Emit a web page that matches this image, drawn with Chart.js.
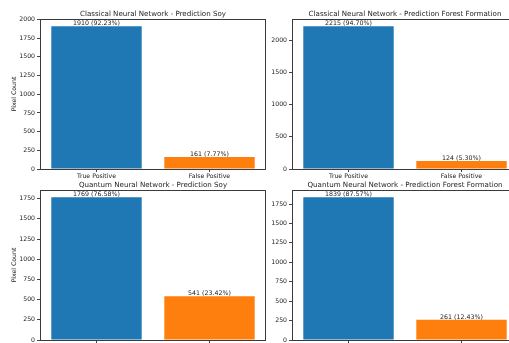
<!DOCTYPE html>
<html><head><meta charset="utf-8">
<script src="https://cdn.jsdelivr.net/npm/chart.js@4"></script>
<style>
html,body{margin:0;padding:0;background:#fff;width:509px;height:343px;overflow:hidden;position:relative;}
canvas{position:absolute;}
</style></head><body>
<canvas id="c0" width="267" height="185" style="left:0;top:0"></canvas>
<canvas id="c1" width="267" height="185" style="left:252px;top:0"></canvas>
<canvas id="c2" width="267" height="185" style="left:0;top:171px"></canvas>
<canvas id="c3" width="267" height="185" style="left:252px;top:171px"></canvas>
<script>
const categories = ["True Positive", "False Positive"];
const titles = [
  "Classical Neural Network - Prediction Soy",
  "Classical Neural Network - Prediction Forest Formation",
  "Quantum Neural Network - Prediction Soy",
  "Quantum Neural Network - Prediction Forest Formation"
];
const classicalSoy = [1910, 161];
const classicalForest = [2215, 124];
const quantumSoy = [1769, 541];
const quantumForest = [1839, 261];
const tickSteps = [250, 500, 250, 250];
const yTitles = ["Pixel Count", "", "Pixel Count", ""];
const barColors = ["#1f77b4", "#ff7f0e"];

const FONT = "'DejaVu Sans', sans-serif";
const series = [classicalSoy, classicalForest, quantumSoy, quantumForest];

const framePlugin = {
  id: 'frame',
  afterDatasetsDraw(chart) {
    const a = chart.chartArea, ctx = chart.ctx;
    ctx.save();
    ctx.strokeStyle = '#3a3a3a';
    ctx.lineWidth = 1;
    ctx.strokeRect(Math.round(a.left) + 0.5, Math.round(a.top) + 0.5,
                   Math.round(a.right - a.left) - 1, Math.round(a.bottom - a.top));
    ctx.restore();
  }
};
const axTitlePlugin = {
  id: 'axTitle',
  afterDraw(chart, args, opts) {
    const a = chart.chartArea, ctx = chart.ctx;
    ctx.save();
    ctx.font = "7.1px " + FONT;
    ctx.fillStyle = '#222';
    ctx.textAlign = 'center';
    ctx.textBaseline = 'middle';
    ctx.fillText(opts.text, (a.left + a.right) / 2, a.top - 5);
    ctx.restore();
  }
};
const labelPlugin = {
  id: 'barLabels',
  afterDatasetsDraw(chart) {
    const ctx = chart.ctx;
    const data = chart.data.datasets[0].data;
    const total = data.reduce((s, v) => s + v, 0);
    const meta = chart.getDatasetMeta(0);
    ctx.save();
    ctx.font = "6.3px " + FONT;
    ctx.fillStyle = '#222';
    ctx.textAlign = 'center';
    ctx.textBaseline = 'bottom';
    meta.data.forEach((bar, i) => {
      const v = data[i];
      ctx.fillText(v + " (" + (v / total * 100).toFixed(2) + "%)", bar.x, bar.y + 0.5);
    });
    ctx.restore();
  }
};

series.forEach((vals, k) => {
  const maxV = Math.max(...vals) * 1.05;
  const step = tickSteps[k];
  new Chart(document.getElementById('c' + k), {
    type: 'bar',
    data: {
      labels: categories,
      datasets: [{ data: vals, backgroundColor: barColors, borderWidth: 0,
                   barPercentage: 0.8, categoryPercentage: 1.0 }]
    },
    options: {
      responsive: false, animation: false, devicePixelRatio: 1,
      layout: { padding: { left: 0, right: 1, top: 19, bottom: 0 } },
      plugins: {
        legend: { display: false }, tooltip: { enabled: false },
        title: { display: false },
        axTitle: { text: titles[k] }
      },
      scales: {
        x: {
          grid: { display: true, drawOnChartArea: false, drawTicks: true, tickLength: 3,
                  color: '#444', offset: false },
          border: { display: false },
          ticks: { color: '#222', font: { family: FONT, size: 6.2 }, padding: 1,
                   maxRotation: 0, autoSkip: false },
          afterFit(s) { s.height = 16; }
        },
        y: {
          min: 0, max: maxV,
          grid: { display: true, drawOnChartArea: false, drawTicks: true, tickLength: 3,
                  color: '#444' },
          border: { display: false },
          ticks: { color: '#222', font: { family: FONT, size: 6.2 }, padding: 2,
                   autoSkip: false, callback: v => String(v) },
          afterBuildTicks(s) {
            const t = [];
            for (let v = 0; v <= maxV; v += step) t.push({ value: v });
            s.ticks = t;
          },
          title: { display: yTitles[k] !== "", text: yTitles[k], color: '#222',
                   font: { family: FONT, size: 6.2 }, padding: { top: 11, bottom: 0 } },
          afterFit(s) { s.width = 40; }
        }
      }
    },
    plugins: [framePlugin, labelPlugin, axTitlePlugin]
  });
});
</script>
</body></html>
